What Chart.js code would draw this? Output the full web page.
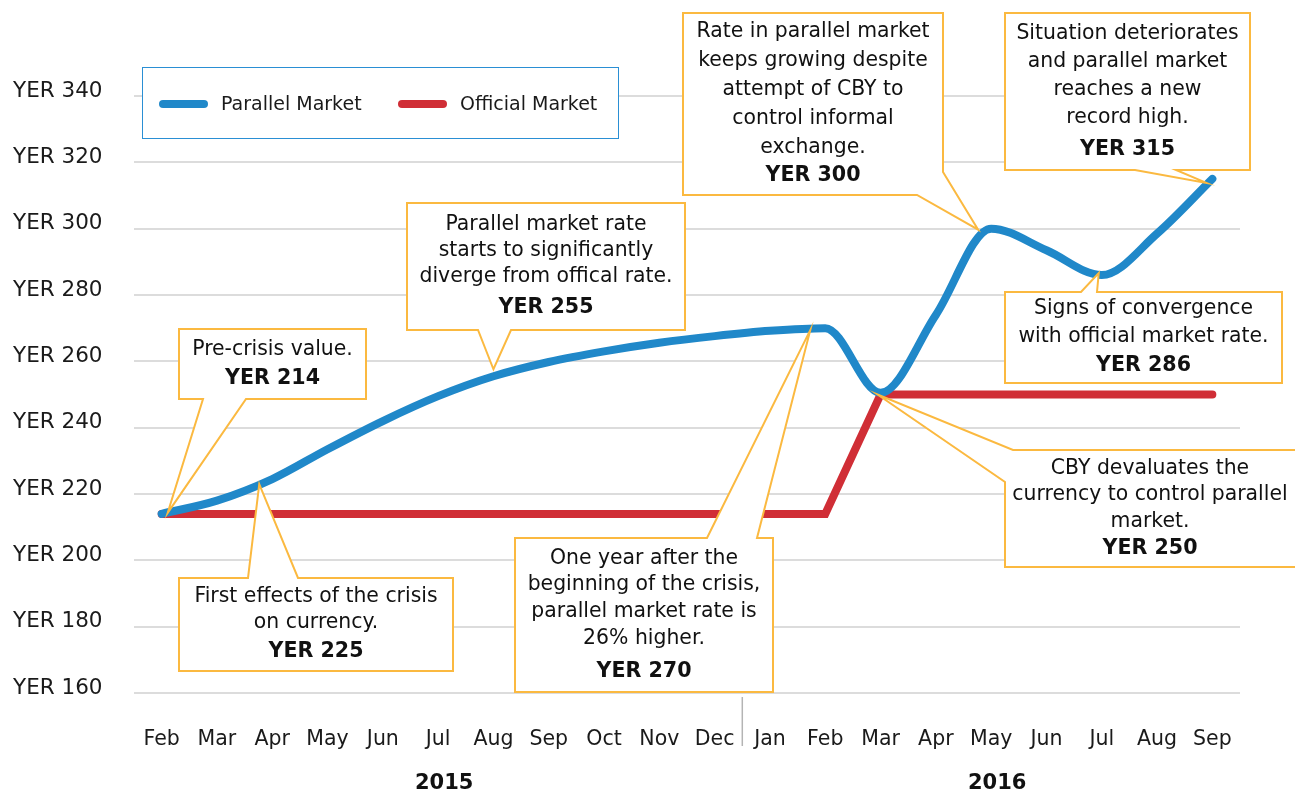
<!DOCTYPE html>
<html>
<head>
<meta charset="utf-8">
<script src="https://cdn.jsdelivr.net/npm/chart.js@4"></script>
<style>
  body { margin: 0; background: #fff; }
  #wrap { position: relative; width: 1295px; height: 791px; }
</style>
</head>
<body>
<div id="wrap"><canvas id="myChart"></canvas></div>
<script>
// chart data
const months = ['Feb','Mar','Apr','May','Jun','Jul','Aug','Sep','Oct','Nov','Dec',
                'Jan','Feb','Mar','Apr','May','Jun','Jul','Aug','Sep']
const years = ['2015', '2016']
const yearStart = [0, 11]
const parallelMarket = [214, 218, 224.5, 233.5, 242, 249.5, 255.5, 259.8, 263, 265.6, 267.6,
                        269.2, 270, 250.5, 274, 300, 293.5, 286, 298.5, 315]
const officialMarket = [214, 214, 214, 214, 214, 214, 214, 214, 214, 214, 214,
                        214, 214, 250, 250, 250, 250, 250, 250, 250]
const seriesNames = ['Parallel Market', 'Official Market']
const yTicks = [160, 180, 200, 220, 240, 260, 280, 300, 320, 340]

// callout texts, each one points at a value of a series
const notes = [
  { series: 0, index: 0,  lines: ['Pre-crisis value.'], value: 'YER 214' },
  { series: 0, index: 6,  lines: ['Parallel market rate', 'starts to significantly', 'diverge from offical rate.'], value: 'YER 255' },
  { series: 0, index: 2,  lines: ['First effects of the crisis', 'on currency.'], value: 'YER 225' },
  { series: 0, index: 12, lines: ['One year after the', 'beginning of the crisis,', 'parallel market rate is', '26% higher.'], value: 'YER 270' },
  { series: 0, index: 15, lines: ['Rate in parallel market', 'keeps growing despite', 'attempt of CBY to', 'control informal', 'exchange.'], value: 'YER 300' },
  { series: 0, index: 19, lines: ['Situation deteriorates', 'and parallel market', 'reaches a new', 'record high.'], value: 'YER 315' },
  { series: 0, index: 17, lines: ['Signs of convergence', 'with official market rate.'], value: 'YER 286' },
  { series: 1, index: 13, lines: ['CBY devaluates the', 'currency to control parallel', 'market.'], value: 'YER 250' }
]

// where the callout boxes sit (pixels), pointer base on the box edge, tip nudge
const noteBoxes = [
  { x: 179,  y: 329, w: 187, h: 70,  lh: 29,   gap: 29, p1: ['bottom', 246], p2: ['bottom', 203], tip: [6, -1] },
  { x: 407,  y: 203, w: 278, h: 127, lh: 26,   gap: 31, p1: ['bottom', 511], p2: ['bottom', 478], tip: [0, -7] },
  { x: 179,  y: 578, w: 274, h: 93,  lh: 26,   gap: 29, p1: ['top', 248],    p2: ['top', 298],    tip: [-13, 5] },
  { x: 515,  y: 538, w: 258, h: 154, lh: 26.7, gap: 33, p1: ['top', 707],    p2: ['top', 757],    tip: [-15, 2] },
  { x: 683,  y: 13,  w: 260, h: 182, lh: 29,   gap: 28, p1: ['right', 172],  p2: ['bottom', 917], tip: [-13, 1] },
  { x: 1005, y: 13,  w: 245, h: 157, lh: 28,   gap: 32, p1: ['bottom', 1176], p2: ['bottom', 1135], tip: [-6, 4] },
  { x: 1005, y: 292, w: 277, h: 91,  lh: 28,   gap: 29, p1: ['top', 1081],   p2: ['top', 1097],   tip: [-3, -2] },
  { x: 1005, y: 450, w: 300, h: 117, lh: 26.5, gap: 27, p1: ['left', 482],   p2: ['top', 1013],   tip: [-3, 0] }
]

const blue = '#2088c9'
const red = '#d02e36'
const orange = '#fbb940'
const fontFamily = "'DejaVu Sans', Verdana, sans-serif"

function edgeT(b, e) {
  const side = e[0], v = e[1]
  if (side === 'top') return v - b.x
  if (side === 'right') return b.w + (v - b.y)
  if (side === 'bottom') return b.w + b.h + (b.x + b.w - v)
  return 2 * b.w + b.h + (b.y + b.h - v)
}
function edgePt(b, e) {
  const side = e[0], v = e[1]
  if (side === 'top') return [v, b.y]
  if (side === 'right') return [b.x + b.w, v]
  if (side === 'bottom') return [v, b.y + b.h]
  return [b.x, v]
}
// box outline walked clockwise, with the pointer spliced in between p1 and p2
function calloutPath(ctx, b, tip) {
  const P = 2 * b.w + 2 * b.h
  const corners = [[0, b.x, b.y], [b.w, b.x + b.w, b.y], [b.w + b.h, b.x + b.w, b.y + b.h], [2 * b.w + b.h, b.x, b.y + b.h]]
  const t1 = edgeT(b, b.p1), t2 = edgeT(b, b.p2)
  let end = t1
  if (end <= t2) end += P
  const s = edgePt(b, b.p2), e = edgePt(b, b.p1)
  ctx.beginPath()
  ctx.moveTo(s[0], s[1])
  for (let k = 0; k < 2; k++) {
    corners.forEach(c => {
      const tt = c[0] + k * P
      if (tt > t2 && tt < end) ctx.lineTo(c[1], c[2])
    })
  }
  ctx.lineTo(e[0], e[1])
  ctx.lineTo(tip[0], tip[1])
  ctx.closePath()
}

const decorPlugin = {
  id: 'decor',
  afterDatasetsDraw(chart) {
    const ctx = chart.ctx
    ctx.save()

    // legend
    ctx.fillStyle = '#fff'
    ctx.fillRect(142, 67, 476, 71)
    ctx.strokeStyle = '#2a8fd4'
    ctx.lineWidth = 1
    ctx.strokeRect(142.5, 67.5, 476, 71)
    const legendX = [[159, 221], [398, 460]]
    ;[blue, red].forEach((col, i) => {
      ctx.strokeStyle = col
      ctx.lineWidth = 8
      ctx.lineCap = 'round'
      ctx.beginPath()
      ctx.moveTo(legendX[i][0] + 4, 104)
      ctx.lineTo(legendX[i][0] + 45, 104)
      ctx.stroke()
      ctx.fillStyle = '#1a1a1a'
      ctx.font = '19px ' + fontFamily
      ctx.textAlign = 'left'
      ctx.textBaseline = 'middle'
      ctx.fillText(seriesNames[i], legendX[i][1], 105)
    })
    ctx.lineCap = 'butt'

    // callouts
    notes.forEach((note, i) => {
      const b = noteBoxes[i]
      const pt = chart.getDatasetMeta(note.series).data[note.index]
      const tip = [pt.x + b.tip[0], pt.y + b.tip[1]]
      calloutPath(ctx, b, tip)
      ctx.fillStyle = '#fff'
      ctx.fill()
      ctx.strokeStyle = orange
      ctx.lineWidth = 2
      ctx.lineJoin = 'miter'
      ctx.stroke()

      const n = note.lines.length
      const total = (n - 1) * b.lh + b.gap
      let y = b.y + b.h / 2 - total / 2
      const cx = b.x + Math.min(b.w, 1295 - b.x) / 2
      ctx.fillStyle = '#111'
      ctx.textAlign = 'center'
      ctx.textBaseline = 'middle'
      ctx.font = '20.4px ' + fontFamily
      note.lines.forEach((line, k) => {
        ctx.fillText(line, cx, y + k * b.lh)
      })
      ctx.font = 'bold 20.6px ' + fontFamily
      ctx.fillText(note.value, cx, y + (n - 1) * b.lh + b.gap)
    })
    ctx.restore()
  },
  afterDraw(chart) {
    const ctx = chart.ctx
    const xs = chart.scales.x
    ctx.save()
    // separator between the years
    const sep = (xs.getPixelForValue(yearStart[1] - 1) + xs.getPixelForValue(yearStart[1])) / 2
    ctx.strokeStyle = '#b4b4b4'
    ctx.lineWidth = 1.5
    ctx.beginPath()
    ctx.moveTo(sep, 697)
    ctx.lineTo(sep, 746)
    ctx.stroke()
    // year labels
    ctx.fillStyle = '#111'
    ctx.font = 'bold 21px ' + fontFamily
    ctx.textAlign = 'center'
    ctx.textBaseline = 'middle'
    years.forEach((yr, i) => {
      const first = yearStart[i]
      const last = i + 1 < years.length ? yearStart[i + 1] - 1 : months.length - 1
      const cx = (xs.getPixelForValue(first) + xs.getPixelForValue(last)) / 2 + 6
      ctx.fillText(yr, cx, 784)
    })
    ctx.restore()
  }
}

Chart.defaults.font.family = fontFamily
Chart.defaults.color = '#1a1a1a'

const canvas = document.getElementById('myChart')
const myChart = new Chart(canvas, {
  type: 'line',
  data: {
    labels: months,
    datasets: [
      {
        label: seriesNames[0],
        data: parallelMarket,
        borderColor: blue,
        borderWidth: 8,
        borderCapStyle: 'round',
        cubicInterpolationMode: 'monotone',
        pointRadius: 0,
        fill: false
      },
      {
        label: seriesNames[1],
        data: officialMarket,
        borderColor: red,
        borderWidth: 8,
        borderCapStyle: 'round',
        borderJoinStyle: 'miter',
        tension: 0,
        pointRadius: 0,
        fill: false
      }
    ]
  },
  options: {
    responsive: true,
    maintainAspectRatio: false,
    animation: false,
    devicePixelRatio: 1,
    layout: { padding: { top: 96, left: 13, right: 55, bottom: 0 } },
    plugins: {
      legend: { display: false },
      tooltip: { enabled: false }
    },
    scales: {
      x: {
        type: 'category',
        offset: true,
        grid: { display: false, drawTicks: false },
        border: { display: false },
        ticks: {
          autoSkip: false,
          maxRotation: 0,
          padding: 34,
          font: { size: 20.5 },
          color: '#1a1a1a'
        },
        afterFit: (scale) => { scale.height = 98 }
      },
      y: {
        min: yTicks[0],
        max: yTicks[yTicks.length - 1],
        afterBuildTicks: (scale) => { scale.ticks = yTicks.map(v => ({ value: v })) },
        grid: { color: '#dcdcdc', lineWidth: 2, drawTicks: false },
        border: { display: false },
        ticks: {
          crossAlign: 'far',
          labelOffset: -5,
          font: { size: 21.5 },
          color: '#1a1a1a',
          callback: (v) => 'YER ' + v
        },
        afterFit: (scale) => { scale.width = 121 }
      }
    }
  },
  plugins: [decorPlugin]
})
</script>
</body>
</html>
